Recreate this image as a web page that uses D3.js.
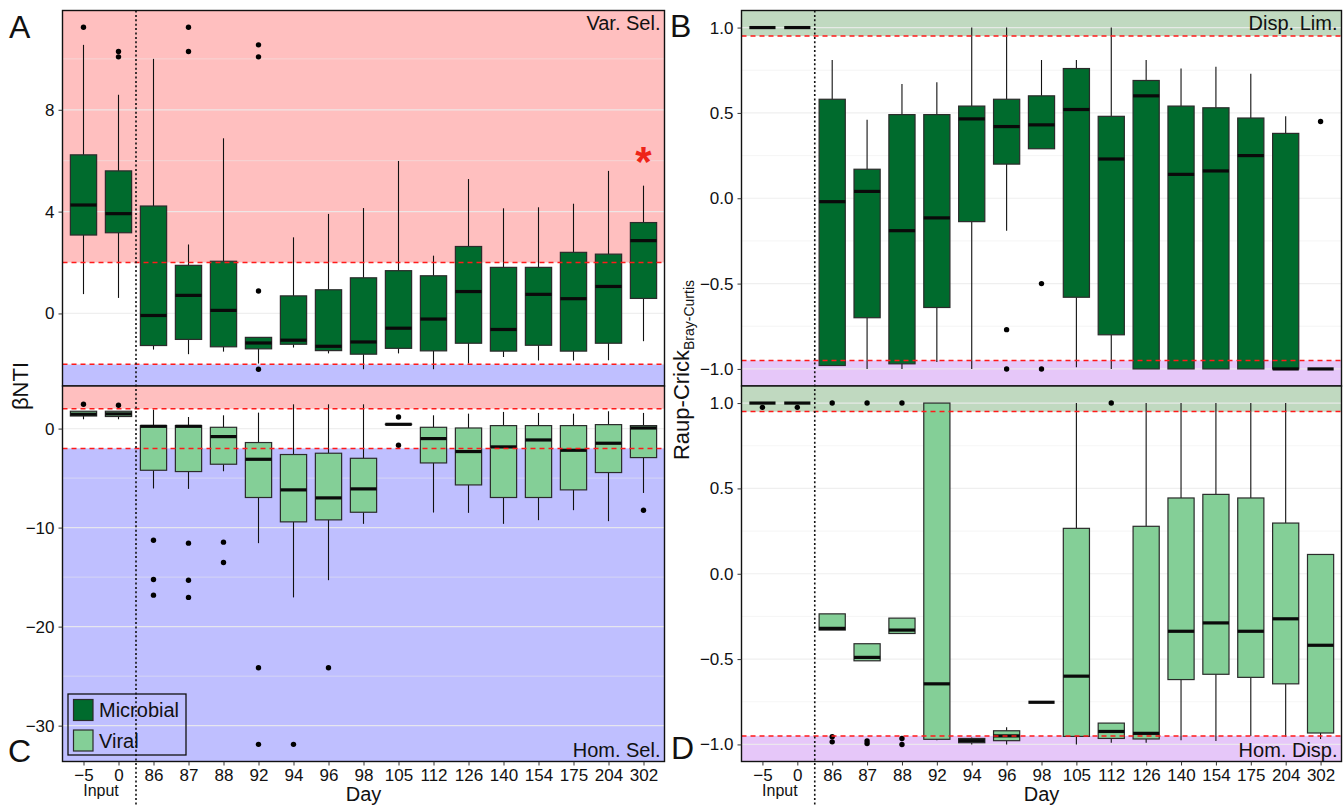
<!DOCTYPE html>
<html>
<head>
<meta charset="utf-8">
<script src="https://cdn.jsdelivr.net/npm/d3@7"></script>
<style>
  body { margin: 0; background: #fff; }
  svg { display: block; }
  text { font-family: "Liberation Sans", Arial, Helvetica, sans-serif; }
</style>
</head>
<body>
<svg id="fig" width="1343" height="807"></svg>
<script>
// Sampling days (the first two are the input communities)
const days = ["-5", "0", "86", "87", "88", "92", "94", "96", "98", "105", "112", "126", "140", "154", "175", "204", "302"];
const inputDays = ["-5", "0"];

// Box summaries per day: [lower whisker, Q1, median, Q3, upper whisker]
const microbialNTI = [
  [0.76, 3.08, 4.26, 6.23, 10.55], [0.61, 3.17, 3.92, 5.60, 8.59], [-1.42, -1.26, -0.08, 4.22, 10.0],
  [-1.60, -1.02, 0.71, 1.89, 2.71], [-1.50, -1.31, 0.12, 2.05, 6.88], [-1.97, -1.39, -1.16, -0.94, -0.94],
  [-1.34, -1.21, -1.05, 0.69, 2.99], [-1.57, -1.46, -1.29, 0.93, 3.91], [-2.19, -1.60, -1.12, 1.40, 4.14],
  [-1.57, -1.37, -0.58, 1.68, 5.99], [-2.19, -1.47, -0.22, 1.48, 2.27], [-1.97, -1.17, 0.86, 2.63, 5.28],
  [-1.71, -1.48, -0.63, 1.81, 4.13], [-1.85, -1.25, 0.75, 1.81, 4.17], [-1.85, -1.48, 0.58, 2.40, 4.31],
  [-1.84, -1.17, 1.06, 2.33, 5.60], [-1.09, 0.59, 2.86, 3.57, 5.02]
];
const microbialNTIOutliers = [
  [11.24], [10.29, 10.08], [], [11.24, 10.29], [], [10.55, 10.08, 0.88, -2.19], [], [], [], [], [], [], [], [], [], [], []
];

const viralNTI = [
  [0.94, 1.27, 1.45, 1.75, 1.75], [0.94, 1.22, 1.48, 1.75, 1.75], [-6.05, -4.21, 0.23, 0.30, 1.92],
  [-6.09, -4.34, 0.23, 0.30, 1.17], [-4.31, -3.60, -0.81, 0.13, 1.34], [-11.57, -6.96, -3.10, -1.41, 1.61],
  [-17.05, -9.42, -6.19, -2.62, 2.45], [-15.31, -9.22, -7.00, -2.49, 2.45], [-9.62, -8.45, -6.09, -3.00, 2.45],
  [0.43, 0.41, 0.43, 0.45, 0.45], [-8.48, -3.47, -1.01, 0.13, 1.34], [-8.51, -5.69, -2.32, 0.06, 1.51],
  [-9.62, -6.96, -1.85, 0.30, 1.68], [-9.25, -6.96, -1.15, 0.30, 1.58], [-8.24, -6.19, -2.19, 0.30, 1.51],
  [-9.35, -4.44, -1.48, 0.40, 1.75], [-6.50, -2.93, 0.06, 0.30, 1.58]
];
const viralNTIOutliers = [
  [2.45], [2.35], [-11.27, -15.24, -16.82], [-11.57, -15.31, -17.05], [-11.47, -13.52], [-24.15, -31.89],
  [-31.89], [-24.15], [], [1.17, -1.68], [], [], [], [], [], [], [-8.24]
];

const microbialRC = [
  [1, 1, 1, 1, 1], [1, 1, 1, 1, 1], [-0.98, -0.98, -0.02, 0.58, 0.81],
  [-1.0, -0.70, 0.04, 0.17, 0.46], [-1.0, -0.97, -0.19, 0.49, 0.67], [-0.96, -0.64, -0.115, 0.49, 0.68],
  [-1.0, -0.137, 0.465, 0.54, 1.0], [-0.19, 0.20, 0.42, 0.58, 1.0], [0.29, 0.29, 0.43, 0.60, 0.81],
  [-0.99, -0.58, 0.52, 0.76, 0.81], [-1.0, -0.80, 0.23, 0.48, 1.0], [-1.0, -1.0, 0.60, 0.69, 0.81],
  [-1.0, -1.0, 0.14, 0.54, 0.76], [-1.0, -1.0, 0.16, 0.53, 0.77], [-1.0, -1.0, 0.25, 0.47, 0.73],
  [-1.0, -1.0, -1.0, 0.38, 0.48], [-1, -1, -1, -1, -1]
];
const microbialRCOutliers = [
  [], [], [], [], [], [], [], [-0.77, -1.0], [-0.50, -1.0], [], [], [], [], [], [], [], [0.45]
];

const viralRC = [
  [1, 1, 1, 1, 1], [1, 1, 1, 1, 1], [-0.33, -0.33, -0.32, -0.235, -0.235],
  [-0.51, -0.51, -0.49, -0.41, -0.41], [-0.35, -0.35, -0.33, -0.26, -0.26], [-0.975, -0.97, -0.645, 1.0, 1.0],
  [-1.0, -0.99, -0.978, -0.965, -0.96], [-1.0, -0.978, -0.95, -0.92, -0.90], [-0.753, -0.753, -0.753, -0.753, -0.753],
  [-1.0, -0.953, -0.60, 0.266, 1.0], [-0.99, -0.965, -0.924, -0.875, -0.875], [-0.99, -0.968, -0.935, 0.278, 1.0],
  [-0.975, -0.62, -0.337, 0.444, 1.0], [-0.98, -0.589, -0.288, 0.465, 1.0], [-0.95, -0.607, -0.337, 0.444, 1.0],
  [-0.955, -0.645, -0.264, 0.297, 1.0], [-0.968, -0.933, -0.419, 0.113, 0.113]
];
const viralRCOutliers = [
  [0.975], [0.975], [1.0, -0.955, -0.985], [1.0, -0.98, -0.995], [1.0, -0.965, -1.0], [], [], [], [],
  [], [1.0], [], [], [], [], [], []
];

// Axis ticks
const ntiTopTicks = [0, 4, 8];
const ntiTopMinor = [-2, 2, 6, 10];
const ntiBottomTicks = [-30, -20, -10, 0];
const ntiBottomMinor = [-25, -15, -5];
const rcTicks = [-1.0, -0.5, 0.0, 0.5, 1.0];
const rcMinor = [-0.75, -0.25, 0.25, 0.75];

// Thresholds for the process bands
const ntiCutoff = 2;
const rcCutoff = 0.95;

const seriesNames = ["Microbial", "Viral"];
const seriesColors = { Microbial: "#006b2d", Viral: "#84cf97" };

const bandRed = "#ffbfbf", bandBlue = "#bfbfff", bandGreen = "#c0d9c0", bandPurple = "#e6c7f9";

const svg = d3.select("#fig");
const minus = s => String(s).replace("-", "\u2212");

const L = { x0: 62.5, x1: 664.5 };
const R = { x0: 741.5, x1: 1341.5 };
const TOP = { y0: 10.5, y1: 386 };
const BOT = { y0: 386, y1: 761.5 };

function makeX(cols) {
  return d3.scalePoint().domain(days).range([cols.x0, cols.x1]).padding(0.6);
}

function drawPanel(p) {
  const x = makeX(p.cols);
  const y = d3.scaleLinear().domain(p.domain).range([p.rows.y1, p.rows.y0]);
  const g = svg.append("g");
  const W = p.cols.x1 - p.cols.x0;

  g.append("rect").attr("x", p.cols.x0).attr("y", p.rows.y0)
    .attr("width", W).attr("height", p.rows.y1 - p.rows.y0).attr("fill", "#fff");

  // process bands
  p.bands.forEach(b => {
    const ya = y(Math.min(b[1], p.domain[1])), yb = y(Math.max(b[0], p.domain[0]));
    g.append("rect").attr("x", p.cols.x0).attr("y", ya).attr("width", W)
      .attr("height", yb - ya).attr("fill", b[2]);
  });

  // grid
  p.minor.forEach(v => {
    g.append("line").attr("x1", p.cols.x0).attr("x2", p.cols.x1)
      .attr("y1", y(v)).attr("y2", y(v))
      .attr("stroke", "#ececec").attr("stroke-opacity", 0.85).attr("stroke-width", 0.6);
  });
  p.ticks.forEach(v => {
    g.append("line").attr("x1", p.cols.x0).attr("x2", p.cols.x1)
      .attr("y1", y(v)).attr("y2", y(v))
      .attr("stroke", "#ececec").attr("stroke-opacity", 0.85).attr("stroke-width", 1.2);
  });

  // boxes
  const bw = x.step() * 0.75;
  const boxes = g.append("g");
  p.stats.forEach((s, i) => {
    const cx = x(days[i]);
    const [lo, q1, md, q3, hi] = s;
    const bx = boxes.append("g");
    bx.append("line").attr("x1", cx).attr("x2", cx).attr("y1", y(hi)).attr("y2", y(q3))
      .attr("stroke", "#111").attr("stroke-width", 1.1);
    bx.append("line").attr("x1", cx).attr("x2", cx).attr("y1", y(q1)).attr("y2", y(lo))
      .attr("stroke", "#111").attr("stroke-width", 1.1);
    bx.append("rect").attr("x", cx - bw / 2).attr("y", y(q3)).attr("width", bw)
      .attr("height", Math.max(0, y(q1) - y(q3)))
      .attr("fill", p.fill).attr("stroke", "#2b2b2b").attr("stroke-width", 1.2);
    bx.append("line").attr("x1", cx - bw / 2).attr("x2", cx + bw / 2).attr("y1", y(md)).attr("y2", y(md))
      .attr("stroke", "#0a0a0a").attr("stroke-width", 3.2);
    p.outliers[i].forEach(o => {
      bx.append("circle").attr("cx", cx).attr("cy", y(o)).attr("r", 2.7).attr("fill", "#000");
    });
  });

  // cut-off lines
  p.cutoffs.forEach(v => {
    g.append("line").attr("x1", p.cols.x0).attr("x2", p.cols.x1)
      .attr("y1", y(v)).attr("y2", y(v))
      .attr("stroke", "#ff1a1a").attr("stroke-width", 1.5).attr("stroke-dasharray", "5,4");
  });

  // border
  g.append("rect").attr("x", p.cols.x0).attr("y", p.rows.y0)
    .attr("width", W).attr("height", p.rows.y1 - p.rows.y0)
    .attr("fill", "none").attr("stroke", "#111").attr("stroke-width", 1.4);

  // y axis
  const ya = g.append("g").attr("transform", `translate(${p.cols.x0},0)`)
    .call(d3.axisLeft(y).tickValues(p.ticks).tickSize(4).tickPadding(4).tickFormat(p.fmt));
  ya.select(".domain").remove();
  ya.selectAll(".tick line").attr("stroke", "#333");
  ya.selectAll(".tick text").attr("font-size", 17).attr("fill", "#111")
    .attr("font-family", "Liberation Sans, Arial, sans-serif");

  // x axis
  const xa = g.append("g").attr("transform", `translate(0,${p.rows.y1})`)
    .call(d3.axisBottom(x).tickSize(4).tickPadding(3)
      .tickFormat(p.showX ? (d => minus(d)) : () => ""));
  xa.select(".domain").remove();
  xa.selectAll(".tick line").attr("stroke", "#333");
  xa.selectAll(".tick text").attr("font-size", 17).attr("fill", "#111")
    .attr("font-family", "Liberation Sans, Arial, sans-serif");

  // corner annotation
  g.append("text").attr("x", p.cols.x1 - 4)
    .attr("y", p.cornerTop ? p.rows.y0 + 19 : p.rows.y1 - 5)
    .attr("text-anchor", "end").attr("font-size", 20).attr("fill", "#111").text(p.corner);

  return { x, y };
}

const fmtInt = d => minus(d);
const fmt1 = d => minus(d3.format(".1f")(d));

const pA = drawPanel({
  cols: L, rows: TOP, domain: [-2.85, 11.9], stats: microbialNTI, outliers: microbialNTIOutliers,
  fill: seriesColors.Microbial, ticks: ntiTopTicks, minor: ntiTopMinor, fmt: fmtInt,
  bands: [[ntiCutoff, 100, bandRed], [-100, -ntiCutoff, bandBlue]], cutoffs: [ntiCutoff, -ntiCutoff],
  showX: false, corner: "Var. Sel.", cornerTop: true
});
const pC = drawPanel({
  cols: L, rows: BOT, domain: [-33.62, 4.3], stats: viralNTI, outliers: viralNTIOutliers,
  fill: seriesColors.Viral, ticks: ntiBottomTicks, minor: ntiBottomMinor, fmt: fmtInt,
  bands: [[ntiCutoff, 100, bandRed], [-100, -ntiCutoff, bandBlue]], cutoffs: [ntiCutoff, -ntiCutoff],
  showX: true, corner: "Hom. Sel.", cornerTop: false
});
const pB = drawPanel({
  cols: R, rows: TOP, domain: [-1.1, 1.1], stats: microbialRC, outliers: microbialRCOutliers,
  fill: seriesColors.Microbial, ticks: rcTicks, minor: rcMinor, fmt: fmt1,
  bands: [[rcCutoff, 100, bandGreen], [-100, -rcCutoff, bandPurple]], cutoffs: [rcCutoff, -rcCutoff],
  showX: false, corner: "Disp. Lim.", cornerTop: true
});
const pD = drawPanel({
  cols: R, rows: BOT, domain: [-1.1, 1.1], stats: viralRC, outliers: viralRCOutliers,
  fill: seriesColors.Viral, ticks: rcTicks, minor: rcMinor, fmt: fmt1,
  bands: [[rcCutoff, 100, bandGreen], [-100, -rcCutoff, bandPurple]], cutoffs: [rcCutoff, -rcCutoff],
  showX: true, corner: "Hom. Disp.", cornerTop: false
});

// significance marker on the last microbial βNTI day
svg.append("text").attr("x", pA.x("302")).attr("y", 176)
  .attr("text-anchor", "middle").attr("font-size", 42).attr("font-weight", "bold")
  .attr("fill", "#ee2418").text("*");

// input / experiment separators, Input and Day labels
[[pA.x, L], [pB.x, R]].forEach(([x, cols]) => {
  const sep = (x(inputDays[1]) + x("86")) / 2;
  svg.append("line").attr("x1", sep).attr("x2", sep).attr("y1", TOP.y0).attr("y2", 807)
    .attr("stroke", "#111").attr("stroke-width", 1.6).attr("stroke-dasharray", "2,2.4");
  svg.append("text").attr("x", (x(inputDays[0]) + x(inputDays[1])) / 2).attr("y", 796)
    .attr("text-anchor", "middle").attr("font-size", 16).attr("fill", "#111").text("Input");
  svg.append("text").attr("x", (cols.x0 + cols.x1) / 2).attr("y", 801)
    .attr("text-anchor", "middle").attr("font-size", 20).attr("fill", "#111").text("Day");
});

// axis titles
svg.append("text").attr("transform", "translate(28,386) rotate(-90)")
  .attr("text-anchor", "middle").attr("font-size", 22).attr("fill", "#111").text("βNTI");
const rc = svg.append("text").attr("transform", "translate(689,370) rotate(-90)")
  .attr("text-anchor", "middle").attr("font-size", 22).attr("fill", "#111");
rc.append("tspan").text("Raup-Crick");
rc.append("tspan").attr("font-size", 14).attr("dy", 5).text("Bray-Curtis");

// panel letters
[["A", 9, 38], ["B", 670, 37], ["C", 8, 762], ["D", 671, 759]].forEach(([t, x, yy]) => {
  svg.append("text").attr("x", x).attr("y", yy).attr("font-size", 32).attr("fill", "#111").text(t);
});

// legend
const lg = svg.append("g").attr("transform", "translate(68,694)");
lg.append("rect").attr("width", 118).attr("height", 61).attr("fill", "none")
  .attr("stroke", "#111").attr("stroke-width", 1.3);
seriesNames.forEach((name, i) => {
  lg.append("rect").attr("x", 5.5).attr("y", 5.5 + i * 30.5).attr("width", 19.5).attr("height", 21)
    .attr("fill", seriesColors[name]).attr("stroke", "#2b2b2b").attr("stroke-width", 1.2);
  lg.append("text").attr("x", 31).attr("y", 23 + i * 30.5).attr("font-size", 20)
    .attr("fill", "#111").text(name);
});
</script>
</body>
</html>
